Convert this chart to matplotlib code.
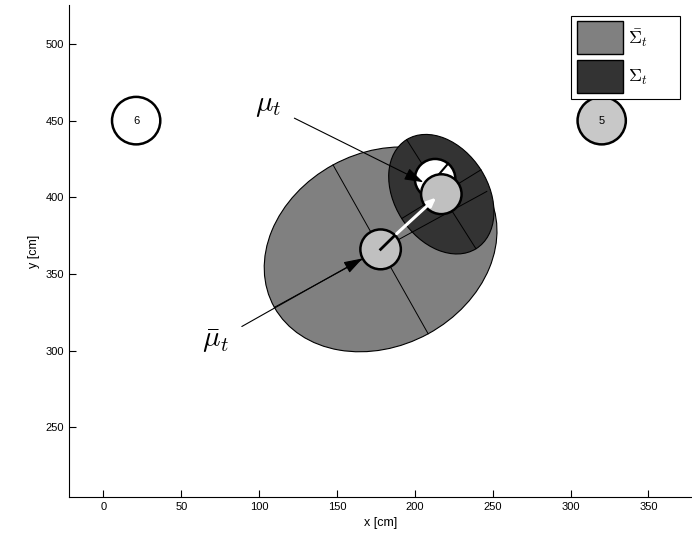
import numpy as np
import matplotlib.pyplot as plt
from matplotlib.patches import Ellipse, Circle, Patch

plt.rcParams['font.family'] = ['Liberation Sans', 'DejaVu Sans']
plt.rcParams['mathtext.fontset'] = 'cm'

# landmarks
lm_x = [21, 320]
lm_y = [450, 450]
lm_ids = ['6', '5']
lm_r = 15.5

# robot poses (cm)
mu_bar = [178, 366]      # predicted mean
mu = [217, 402]          # corrected mean
true_pose = [213, 412]
robot_r = 13
heading_bar = 45         # deg
heading_true = 50

# covariance ellipses: (width, height, angle)
sigma_bar = [156, 126, 29]
sigma = [84, 60, 122]

fig = plt.figure(figsize=(6.92, 5.40), dpi=100)
ax = fig.add_axes([0.100, 0.0796, 0.900, 0.911])


def draw_ellipse(center, w, h, ang, color):
    e = Ellipse(center, w, h, angle=ang, facecolor=color, edgecolor='black', lw=0.8)
    ax.add_patch(e)
    t = np.deg2rad(ang)
    for a, d in [(w / 2, t), (h / 2, t + np.pi / 2)]:
        dx, dy = a * np.cos(d), a * np.sin(d)
        ax.plot([center[0] - dx, center[0] + dx], [center[1] - dy, center[1] + dy],
                color='black', lw=0.7)


draw_ellipse(mu_bar, *sigma_bar, '#808080')
draw_ellipse(mu, *sigma, '#333333')

# landmarks
for x, y, s, fc in zip(lm_x, lm_y, lm_ids, ['white', '#c8c8c8']):
    ax.add_patch(Circle((x, y), lm_r, facecolor=fc, edgecolor='black', lw=1.8))
    ax.text(x, y, s, ha='center', va='center', fontsize=8)

# true pose (white)
ax.add_patch(Circle(true_pose, robot_r, facecolor='white', edgecolor='black', lw=1.8, zorder=3))
h = np.deg2rad(heading_true)
ax.plot([true_pose[0], true_pose[0] + robot_r * np.cos(h)],
        [true_pose[1], true_pose[1] + robot_r * np.sin(h)], color='black', lw=1.5, zorder=3)

# corrected mean
ax.add_patch(Circle(mu, robot_r, facecolor='#c0c0c0', edgecolor='black', lw=1.8, zorder=4))

# predicted mean
ax.add_patch(Circle(mu_bar, robot_r, facecolor='#c0c0c0', edgecolor='black', lw=1.8, zorder=4))
h = np.deg2rad(heading_bar)
ax.plot([mu_bar[0], mu_bar[0] + robot_r * np.cos(h)],
        [mu_bar[1], mu_bar[1] + robot_r * np.sin(h)], color='black', lw=2, zorder=5)

# white arrow between the means
ax.annotate('', xy=(mu[0] - 2, mu[1] - 1), xytext=(mu_bar[0] + 9, mu_bar[1] + 9),
            arrowprops=dict(arrowstyle='-|>,head_length=0.5,head_width=0.22',
                            color='white', lw=2.2), zorder=6)

# labels
ax.annotate(r'$\mu_t$', xy=(207, 409), xytext=(106, 460), fontsize=21,
            ha='center', va='center',
            arrowprops=dict(arrowstyle='-|>,head_length=0.55,head_width=0.18',
                            color='black', lw=0.8, shrinkA=8), zorder=7)
ax.annotate(r'$\bar{\mu}_t$', xy=(168, 361), xytext=(72, 306), fontsize=21,
            ha='center', va='center',
            arrowprops=dict(arrowstyle='-|>,head_length=0.55,head_width=0.18',
                            color='black', lw=0.8, shrinkA=8), zorder=7)

ax.set_xlim(-22, 378)
ax.set_ylim(204.4, 525.4)
ax.set_xticks(np.arange(0, 351, 50))
ax.set_yticks(np.arange(250, 501, 50))
ax.tick_params(direction='in', length=5, labelsize=8, width=0.8)
ax.spines['top'].set_visible(False)
ax.spines['right'].set_visible(False)
ax.set_xlabel('x [cm]', fontsize=9, labelpad=4)
ax.set_ylabel('y [cm]', fontsize=9, labelpad=4)

handles = [Patch(facecolor='#808080', edgecolor='black', label=r'$\bar{\Sigma}_t$' + ' ' * 6),
           Patch(facecolor='#333333', edgecolor='black', label=r'$\Sigma_t$' + ' ' * 6)]
leg = ax.legend(handles=handles, loc='upper right', bbox_to_anchor=(0.981, 0.978),
                fontsize=13, handlelength=2.55, handleheight=2.45, fancybox=False,
                framealpha=1, edgecolor='black', borderpad=0.3, handletextpad=0.3,
                labelspacing=0.3, borderaxespad=0)
leg.get_frame().set_linewidth(0.8)

fig.savefig('out.png', dpi=100)
